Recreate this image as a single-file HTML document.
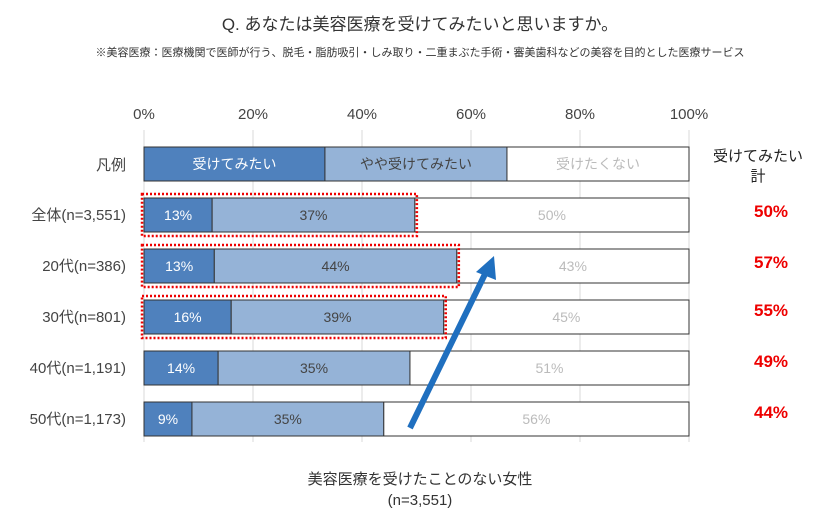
<!DOCTYPE html>
<html><head><meta charset="utf-8"><style>
body{margin:0;background:#fff;width:840px;height:524px;overflow:hidden;font-family:"Liberation Sans","Noto Sans CJK JP",sans-serif;}
</style></head><body>
<svg id="c" width="840" height="524" xmlns="http://www.w3.org/2000/svg" font-family="Liberation Sans, Noto Sans CJK JP, sans-serif">
<text x="420" y="30" text-anchor="middle" font-size="17" fill="#333">Q. あなたは美容医療を受けてみたいと思いますか。</text>
<text x="420" y="56" text-anchor="middle" font-size="11" fill="#333">※美容医療：医療機関で医師が行う、脱毛・脂肪吸引・しみ取り・二重まぶた手術・審美歯科などの美容を目的とした医療サービス</text>
<g id="grid"></g><g id="bars"></g><g id="ann"></g>
<text x="420" y="484" text-anchor="middle" font-size="15" fill="#333">美容医療を受けたことのない女性</text>
<text x="420" y="505" text-anchor="middle" font-size="15" fill="#333">(n=3,551)</text>
</svg>
<script>
const categories=["全体(n=3,551)","20代(n=386)","30代(n=801)","40代(n=1,191)","50代(n=1,173)"];
const want=[12.5,12.9,16.0,13.6,8.8];
const some=[37.2,44.5,39.0,35.2,35.2];
const not=[50.3,42.6,45.0,51.2,56.0];
const wantLabels=["13%","13%","16%","14%","9%"];
const someLabels=["37%","44%","39%","35%","35%"];
const notLabels=["50%","43%","45%","51%","56%"];
const totalLabels=["50%","57%","55%","49%","44%"];
const ticks=[0,20,40,60,80,100];
const highlighted=[0,1,2];
const NS="http://www.w3.org/2000/svg";
const x0=144,x1=689;
const xs=v=>x0+(x1-x0)*v/100;
const rowY=i=>198+i*51, bh=34;
function mk(p,t,a){const e=document.createElementNS(NS,t);for(const k in a)e.setAttribute(k,a[k]);p.appendChild(e);return e;}
const grid=document.getElementById('grid'),bars=document.getElementById('bars'),ann=document.getElementById('ann');
ticks.forEach(t=>{
 const l=mk(grid,'line',{x1:xs(t),x2:xs(t),y1:130,y2:442,stroke:'#d9d9d9','stroke-width':1});
 
 
 const tx=mk(grid,'text',{x:xs(t),y:119,'text-anchor':'middle','font-size':15,fill:'#444'});
 tx.textContent=t+'%';
 
 
});
function seg(y,a,b,fill,label,col,name){
 const r=mk(bars,'rect',{x:xs(a),y:y,width:xs(b)-xs(a),height:bh,fill:fill,stroke:'#333','stroke-width':1});
 
 
 const t=mk(bars,'text',{x:(xs(a)+xs(b))/2,y:y+bh/2+5,'text-anchor':'middle','font-size':14,fill:col});
 t.textContent=label;
 
 
}
const lw=[33.2,33.4,33.4];
seg(147,0,lw[0],'#4f81bd','受けてみたい','#fff','legend-want');
seg(147,lw[0],lw[0]+lw[1],'#95b3d7','やや受けてみたい','#444','legend-somewhat');
seg(147,lw[0]+lw[1],100,'#fff','受けたくない','#bbb','legend-not');
const lg=mk(bars,'text',{x:126,y:170,'text-anchor':'end','font-size':15,fill:'#444'});lg.textContent='凡例';


const h1=mk(bars,'text',{x:758,y:161,'text-anchor':'middle','font-size':15,fill:'#222'});h1.textContent='受けてみたい';


const h2=mk(bars,'text',{x:758,y:181,'text-anchor':'middle','font-size':15,fill:'#222'});h2.textContent='計';


categories.forEach((c,i)=>{
 const y=rowY(i);
 seg(y,0,want[i],'#4f81bd',wantLabels[i],'#fff','bar-want');
 seg(y,want[i],want[i]+some[i],'#95b3d7',someLabels[i],'#444','bar-somewhat');
 seg(y,want[i]+some[i],100,'#fff',notLabels[i],'#bbb','bar-not');
 const t=mk(bars,'text',{x:126,y:y+bh/2+5,'text-anchor':'end','font-size':15,fill:'#444'});t.textContent=c;
 
 
 const tt=mk(bars,'text',{x:771,y:y+bh/2+2-(i>=2?3:0),'text-anchor':'middle','font-size':17,'font-weight':'bold',fill:'#e00'});tt.textContent=totalLabels[i];
 
 
});
highlighted.forEach(i=>{
 const y=rowY(i);
 const r=mk(ann,'rect',{x:xs(0)-2,y:y-4,width:xs(want[i]+some[i])-xs(0)+4,height:bh+8,fill:'none',stroke:'#e00','stroke-width':2.5,'stroke-dasharray':'2 2'});
 
 
});
const ar=mk(ann,'line',{x1:410,y1:428,x2:487,y2:270,stroke:'#1f6fbf','stroke-width':6});


const ah=mk(ann,'polygon',{points:'494,256 476,272 496,280',fill:'#1f6fbf'});


</script>
</body></html>
